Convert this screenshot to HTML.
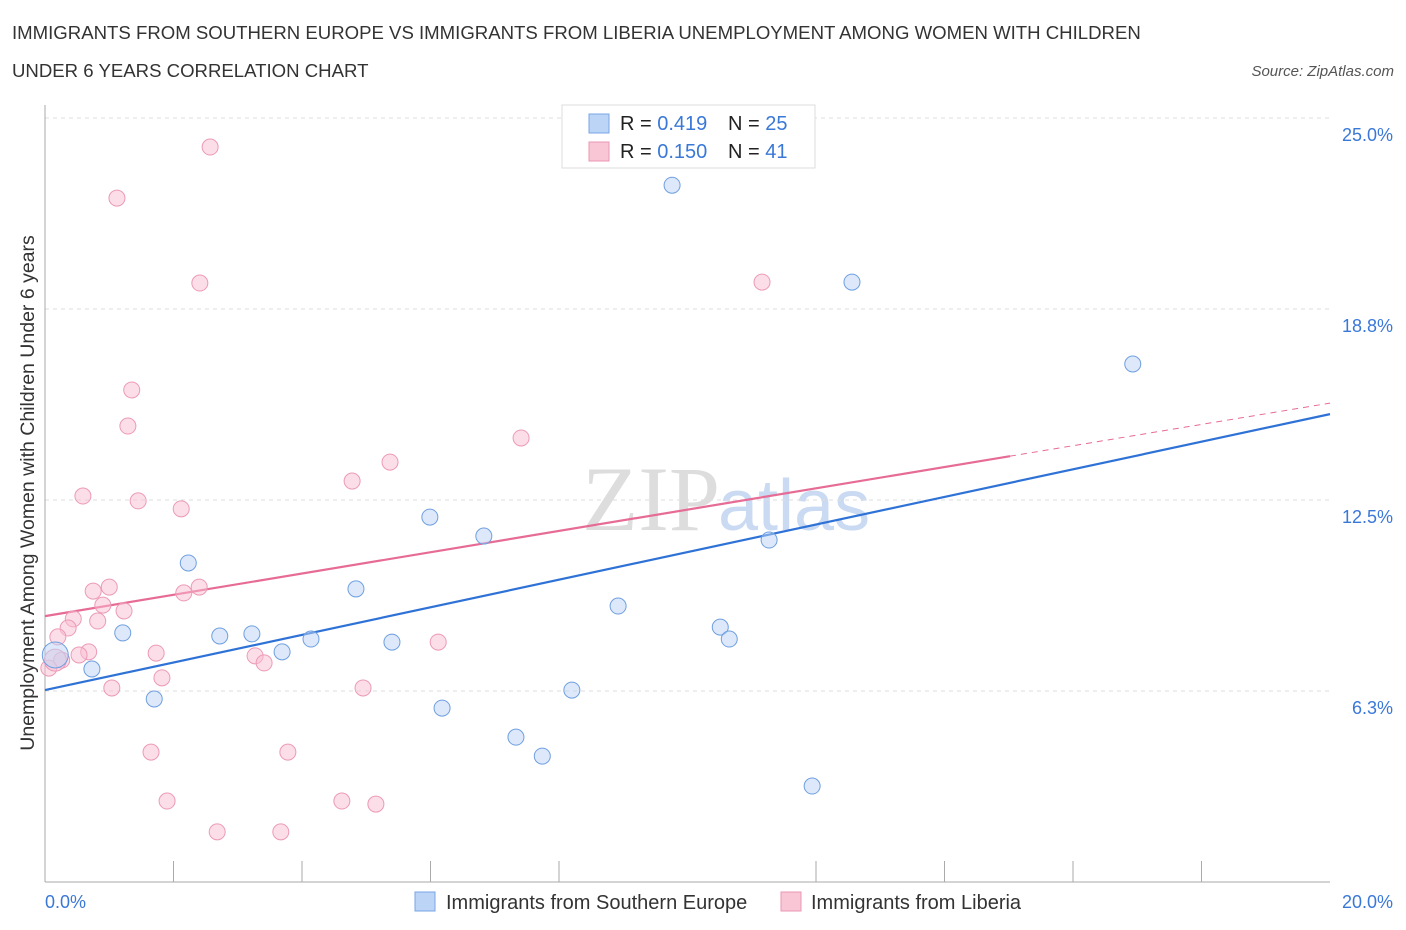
<!DOCTYPE html>
<html><head><meta charset="utf-8"><style>
body{margin:0;background:#fff;font-family:"Liberation Sans",sans-serif;}
svg{display:block}
</style></head><body>
<svg id="chart" width="1406" height="930" xmlns="http://www.w3.org/2000/svg">
<text x="12" y="39" font-size="18.6" fill="#333">IMMIGRANTS FROM SOUTHERN EUROPE VS IMMIGRANTS FROM LIBERIA UNEMPLOYMENT AMONG WOMEN WITH CHILDREN</text>
<text x="12" y="77" font-size="18.6" fill="#333">UNDER 6 YEARS CORRELATION CHART</text>
<text x="1394" y="76" font-size="15" fill="#555" font-style="italic" text-anchor="end">Source: ZipAtlas.com</text>
<text x="720" y="530" font-size="92" fill="#ddd" text-anchor="end" font-family="Liberation Serif,serif">ZIP</text>
<text x="718" y="530" font-size="72" fill="#c9daf2">atlas</text>
<g id="grid"></g>
<g id="axes"></g>
<g id="trend"></g>
<g id="pts"></g>
<text x="34" y="493" font-size="19.5" fill="#333" text-anchor="middle" transform="rotate(-90 34 493)">Unemployment Among Women with Children Under 6 years</text>
<g>
<rect x="562" y="105" width="253" height="63" fill="#fff" stroke="#ddd"/>
<rect x="589" y="114" width="20" height="19" fill="#bcd4f6" stroke="#7aa6e6"/>
<rect x="589" y="142" width="20" height="19" fill="#f9c6d6" stroke="#ec97b3"/>
<text x="620" y="130" font-size="20" fill="#222">R = <tspan fill="#3a78d8">0.419</tspan></text>
<text x="728" y="130" font-size="20" fill="#222">N = <tspan fill="#3a78d8">25</tspan></text>
<text x="620" y="158" font-size="20" fill="#222">R = <tspan fill="#3a78d8">0.150</tspan></text>
<text x="728" y="158" font-size="20" fill="#222">N = <tspan fill="#3a78d8"> 41</tspan></text>
</g>
<g>
<rect x="415" y="892" width="20" height="19" fill="#bcd4f6" stroke="#7aa6e6"/>
<text x="446" y="909" font-size="20" fill="#333">Immigrants from Southern Europe</text>
<rect x="781" y="892" width="20" height="19" fill="#f9c6d6" stroke="#ec97b3"/>
<text x="811" y="909" font-size="20" fill="#333">Immigrants from Liberia</text>
</g>
<text x="45" y="908" font-size="18" fill="#3a78d8">0.0%</text>
<text x="1393" y="908" font-size="18" fill="#3a78d8" text-anchor="end">20.0%</text>
</svg>
<script>
const yTicks=[25.0,18.8,12.5,6.3];
const yTickVals=[25,18.75,12.5,6.25];
const blueX=[9.76,12.56,16.93,5.99,6.83,11.27,2.23,4.84,8.92,1.21,2.72,3.22,4.14,10.51,10.65,3.69,5.40,0.73,0.16,1.70,8.20,6.18,7.33,7.74,11.94];
const blueY=[22.8,19.63,16.95,11.94,11.32,11.19,10.44,9.59,9.03,8.15,8.05,8.12,7.95,8.34,7.95,7.53,7.85,6.97,7.43,5.99,6.28,5.69,4.74,4.12,3.14];
const pinkX=[2.57,1.12,2.41,11.16,1.35,1.29,7.41,5.37,4.78,0.59,1.45,2.12,1.0,0.75,2.40,2.16,0.90,1.23,0.44,0.82,0.36,0.20,0.68,0.53,1.73,3.27,3.41,6.12,0.26,0.06,1.82,1.04,4.95,1.65,3.78,1.90,4.62,5.15,2.68,3.67,0.16];
const pinkY=[24.05,22.38,19.6,19.63,16.1,14.92,14.53,13.74,13.12,12.63,12.47,12.21,9.65,9.52,9.65,9.46,9.06,8.87,8.61,8.54,8.31,8.02,7.53,7.43,7.49,7.40,7.17,7.85,7.26,7.0,6.68,6.35,6.35,4.25,4.25,2.65,2.65,2.55,1.64,1.64,7.26];
const blueTrend=[6.28,15.31];
const pinkTrend=[8.70,15.67];
const pinkSolidEnd=15.02;
const X=v=>45+v/20*1285, Y=v=>882-v*30.56;
const NS="http://www.w3.org/2000/svg";
function mk(t,a,p){const e=document.createElementNS(NS,t);for(const k in a)e.setAttribute(k,a[k]);p.appendChild(e);return e;}
const g=document.getElementById('grid'),ax=document.getElementById('axes'),tr=document.getElementById('trend'),pts=document.getElementById('pts');
yTickVals.forEach((v,i)=>{
 const l=mk('line',{x1:45,x2:1330,y1:Y(v),y2:Y(v),stroke:'#ddd','stroke-dasharray':'4,4'},g);
 
 
 const t=mk('text',{x:1393,y:Y(v)+23,'font-size':18,fill:'#3a78d8','text-anchor':'end'},g);
 t.textContent=yTicks[i].toFixed(1)+'%';
 
 
});
let a=mk('line',{x1:45,x2:45,y1:105,y2:882,stroke:'#aaa'},ax);


a=mk('line',{x1:45,x2:1330,y1:882,y2:882,stroke:'#aaa'},ax);


for(let i=0;i<=10;i++){const x=45+i*128.5;const t=mk('line',{x1:x,x2:x,y1:882,y2:i%5==0?882:861,stroke:'#aaa'},ax);
 
 }
let ln=mk('line',{x1:X(0),y1:Y(blueTrend[0]),x2:X(20),y2:Y(blueTrend[1]),stroke:'#2f72d6','stroke-width':2.2},tr);


const pe=pinkTrend[0]+(pinkTrend[1]-pinkTrend[0])*pinkSolidEnd/20;
ln=mk('line',{x1:X(0),y1:Y(pinkTrend[0]),x2:X(pinkSolidEnd),y2:Y(pe),stroke:'#e66b95','stroke-width':2.2},tr);


ln=mk('line',{x1:X(pinkSolidEnd),y1:Y(pe),x2:X(20),y2:Y(pinkTrend[1]),stroke:'#e66b95','stroke-width':1,'stroke-dasharray':'6,5'},tr);


pinkX.forEach((x,i)=>{const c=mk('circle',{cx:X(x),cy:Y(pinkY[i]),r:i==40?11:8,fill:'rgba(249,190,210,0.5)',stroke:'#ec9ab6','stroke-width':1},pts);
 
 });
blueX.forEach((x,i)=>{const c=mk('circle',{cx:X(x),cy:Y(blueY[i]),r:i==18?13:8,fill:'rgba(188,212,246,0.5)',stroke:'#6f9fe0','stroke-width':1},pts);
 
 });
</script>
</body></html>
